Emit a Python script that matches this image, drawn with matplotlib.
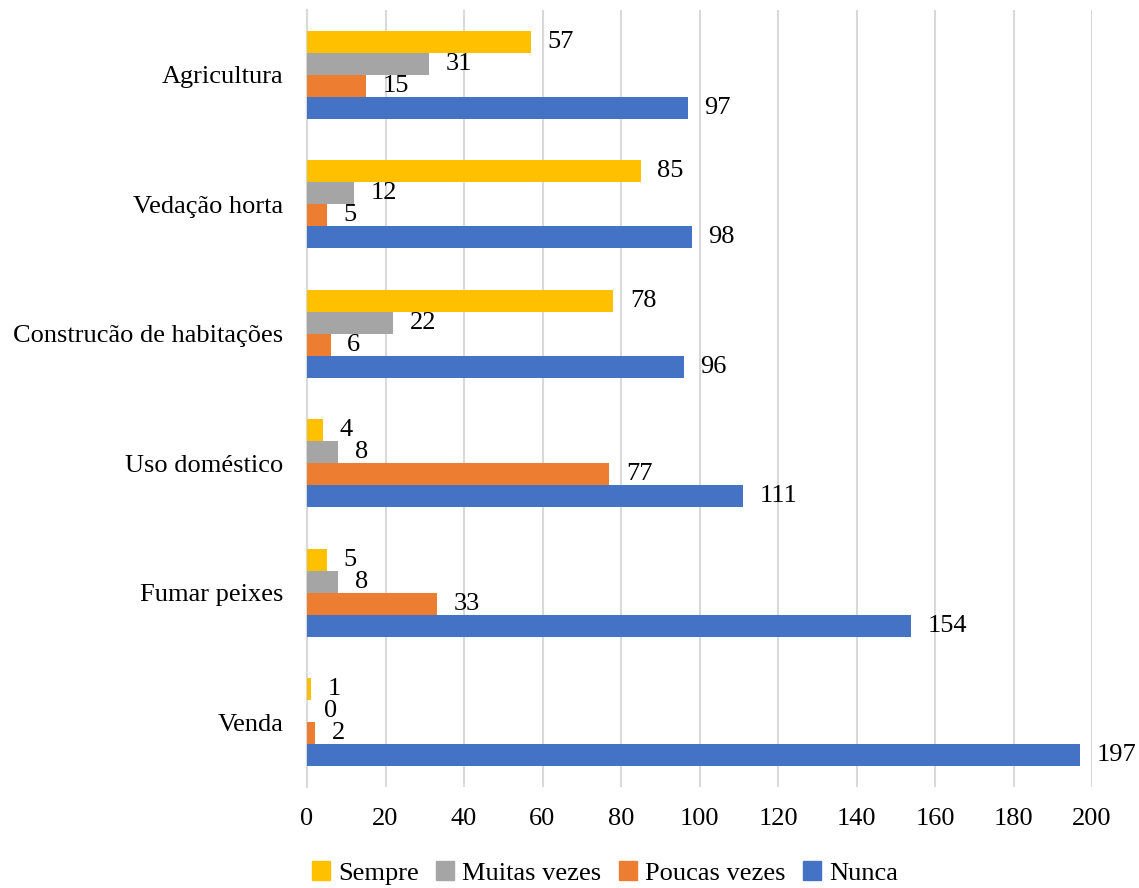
import numpy as np
import matplotlib.pyplot as plt
from matplotlib.patches import Patch

plt.rcParams['font.family'] = ['Liberation Serif', 'DejaVu Serif']

categories = ['Agricultura', 'Vedação horta', 'Construcão de habitações',
              'Uso doméstico', 'Fumar peixes', 'Venda']
series = ['Sempre', 'Muitas vezes', 'Poucas vezes', 'Nunca']
values = {
    'Sempre':       [57, 85, 78, 4, 5, 1],
    'Muitas vezes': [31, 12, 22, 8, 8, 0],
    'Poucas vezes': [15, 5, 6, 77, 33, 2],
    'Nunca':        [97, 98, 96, 111, 154, 197],
}
colors = {'Sempre': '#FFC000', 'Muitas vezes': '#A5A5A5',
          'Poucas vezes': '#ED7D31', 'Nunca': '#4472C4'}
xticks = [0, 20, 40, 60, 80, 100, 120, 140, 160, 180, 200]

fig = plt.figure(figsize=(11.39, 8.88), dpi=100)
ax = fig.add_axes([307/1139, 1-787/888, (1092-307)/1139, (787-10)/888])

fs = 19
h = 0.17
y = np.arange(len(categories))
for i, s in enumerate(series):
    pos = y + (i - 1.5) * h
    ax.barh(pos, values[s], height=h, color=colors[s], zorder=3)
    for p, v in zip(pos, values[s]):
        ax.annotate(str(v), (v, p), xytext=(12, 0), textcoords='offset points',
                    va='center', ha='left', fontsize=fs)

ax.set_ylim(len(categories) - 0.5, -0.5)
ax.set_xlim(0, 200)
ax.set_xticks(xticks)
ax.set_yticks(y)
ax.set_yticklabels(categories)
ax.tick_params(axis='both', length=0, labelsize=fs)
ax.tick_params(axis='x', pad=15)
ax.tick_params(axis='y', pad=17)
ax.grid(axis='x', color='#D9D9D9', linewidth=1.5, zorder=0)
for sp in ['top', 'right', 'bottom']:
    ax.spines[sp].set_visible(False)
ax.spines['left'].set_color('#D9D9D9')
ax.spines['left'].set_linewidth(1.5)

handles = [Patch(color=colors[s], label=s) for s in series]
fig.legend(handles=handles, loc='center', bbox_to_anchor=(0.531, 1-873/888),
           ncol=4, frameon=False, fontsize=fs, handlelength=0.7,
           handleheight=0.7, handletextpad=0.3, columnspacing=0.65)

fig.savefig('out.png', dpi=100)
